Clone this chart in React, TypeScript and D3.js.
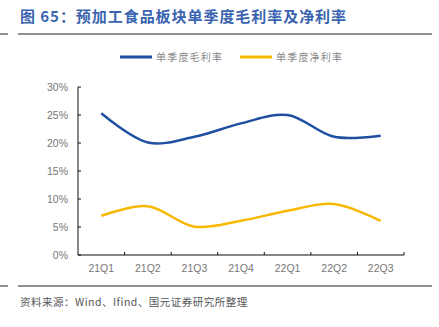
import React from "react";
import * as d3 from "d3";

const categories = ["21Q1", "21Q2", "21Q3", "21Q4", "22Q1", "22Q2", "22Q3"];
const grossMargin = [25.3, 20.1, 21.1, 23.5, 25.0, 21.1, 21.3];
const netMargin = [7.0, 8.7, 5.05, 6.1, 7.9, 9.1, 6.1];
const yTicks = [0, 5, 10, 15, 20, 25, 30];
const seriesNames = ["单季度毛利率", "单季度净利率"];
const title = "图 65：预加工食品板块单季度毛利率及净利率";
const source = "资料来源：Wind、Ifind、国元证券研究所整理";

const BLUE = "#1f4fa0";
const YELLOW = "#f7b800";

export default function App() {
  const W = 439, H = 327;
  const left = 78, right = 404, top = 87, bottom = 255;
  const x = d3.scaleBand<string>().domain(categories).range([left, right]);
  const y = d3.scaleLinear().domain([0, 30]).range([bottom, top]);
  const line = d3
    .line<number>()
    .x((_, i) => (x(categories[i]) as number) + x.bandwidth() / 2)
    .y((d) => y(d))
    .curve(d3.curveCatmullRom.alpha(0.5));
  const font = "'Liberation Sans', Arial, 'Noto Sans CJK SC', sans-serif";
  const cjk = "'Noto Sans CJK SC', sans-serif";
  return (
    <svg width={W} height={H} style={{ position: "absolute", left: 0, top: 0, background: "#fff" }}>
      <text x={20} y={22} fontFamily={cjk} fontWeight="bold" fontSize={15} fill="#3a64b0" letterSpacing={0.95}>
        {title}
      </text>
      <line x1={0} x2={8} y1={34} y2={34} stroke="#222" strokeWidth={1} />
      <line x1={18} x2={432} y1={34} y2={34} stroke="#222" strokeWidth={1} />

      {/* legend */}
      <line x1={120} x2={152} y1={57} y2={57} stroke={BLUE} strokeWidth={3} />
      <text x={156} y={61} fontFamily={cjk} fontSize={10} fill="#888" letterSpacing={1.2}>
        {seriesNames[0]}
      </text>
      <line x1={240} x2={272} y1={57} y2={57} stroke={YELLOW} strokeWidth={3} />
      <text x={276} y={61} fontFamily={cjk} fontSize={10} fill="#888" letterSpacing={1.2}>
        {seriesNames[1]}
      </text>

      {/* y axis */}
      <line x1={left} x2={left} y1={top} y2={bottom} stroke="#111" strokeWidth={1} />
      {yTicks.map((t) => (
        <g key={t}>
          <line x1={left} x2={left + 3} y1={y(t)} y2={y(t)} stroke="#111" strokeWidth={1} />
          <text x={68} y={y(t) + 3.5} textAnchor="end" fontFamily={font} fontSize={10.5} fill="#777">
            {t}%
          </text>
        </g>
      ))}

      {/* x axis */}
      <line x1={left} x2={right} y1={bottom} y2={bottom} stroke="#111" strokeWidth={1} />
      {categories.map((c, i) => (
        <g key={c}>
          <line
            x1={(x(c) as number) + x.bandwidth()}
            x2={(x(c) as number) + x.bandwidth()}
            y1={bottom}
            y2={bottom - 3}
            stroke="#111"
            strokeWidth={1}
          />
          <text
            x={(x(c) as number) + x.bandwidth() / 2}
            y={272}
            textAnchor="middle"
            fontFamily={font}
            fontSize={10.5}
            fill="#777"
          >
            {c}
          </text>
        </g>
      ))}

      <path d={line(grossMargin) || ""} fill="none" stroke={BLUE} strokeWidth={2.5} />
      <path d={line(netMargin) || ""} fill="none" stroke={YELLOW} strokeWidth={2.5} />

      <line x1={0} x2={8} y1={286} y2={286} stroke="#222" strokeWidth={1} />
      <line x1={18} x2={432} y1={286} y2={286} stroke="#222" strokeWidth={1} />
      <text x={20} y={306} fontFamily={cjk} fontSize={10.5} fill="#555" letterSpacing={0.5}>
        {source}
      </text>
    </svg>
  );
}
